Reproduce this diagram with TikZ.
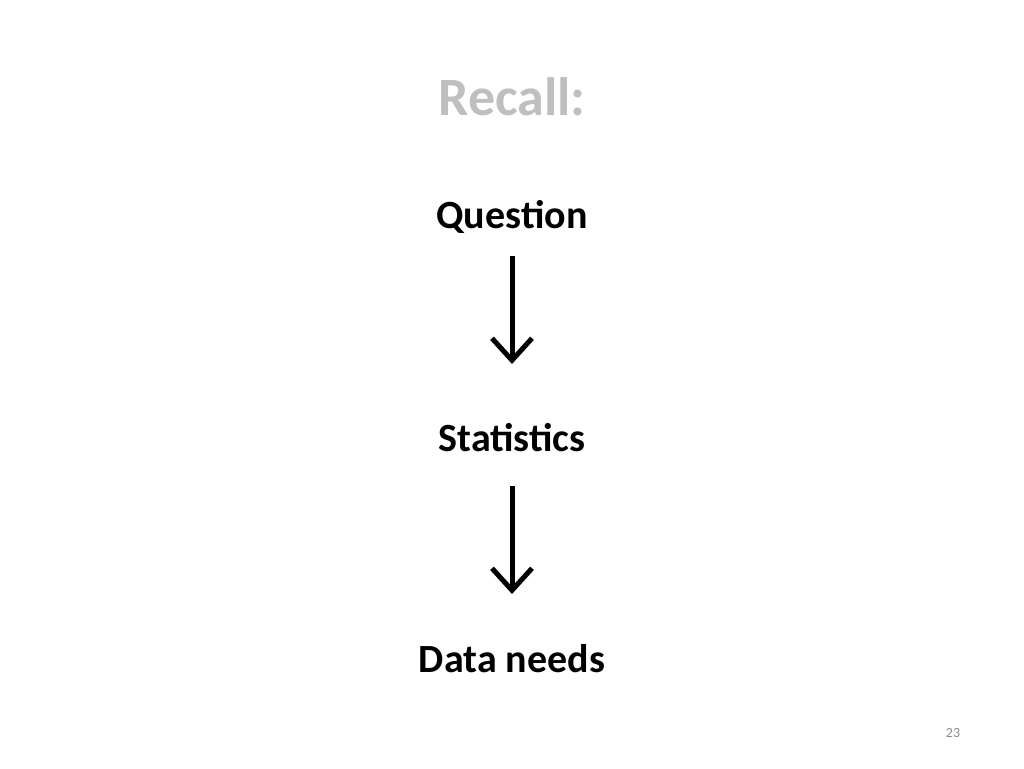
\documentclass[tikz,border=0pt]{standalone}
\usepackage{fontspec}
\setmainfont{Carlito}
\usetikzlibrary{arrows.meta}
\definecolor{titlegray}{HTML}{BFBFBF}
\definecolor{numgray}{HTML}{8C8C8C}
\tikzset{
  lbl/.style={font=\fontsize{40}{48}\selectfont\bfseries, anchor=center, inner sep=0pt},
  arr/.style={line width=5pt, -{Straight Barb[length=22pt,width=40pt,line width=5pt]}}
}
\begin{document}
\begin{tikzpicture}[x=1pt,y=-1pt]
\useasboundingbox (0,0) rectangle (1024,768);
\node[lbl, font=\fontsize{54}{60}\selectfont\bfseries, text=titlegray] (title) at (512,97) {Recall:};
\node[lbl] (q) at (512,217) {Question};
\node[lbl] (s) at (512,438) {Statistics};
\node[lbl] (d) at (512,659) {Data needs};
\node[font=\fontsize{14}{16}\selectfont, text=numgray, inner sep=0pt] (n) at (953,733) {23};
\draw[arr] (512,256) -- (512,364);
\draw[arr] (512,486) -- (512,594);
\end{tikzpicture}
\end{document}
